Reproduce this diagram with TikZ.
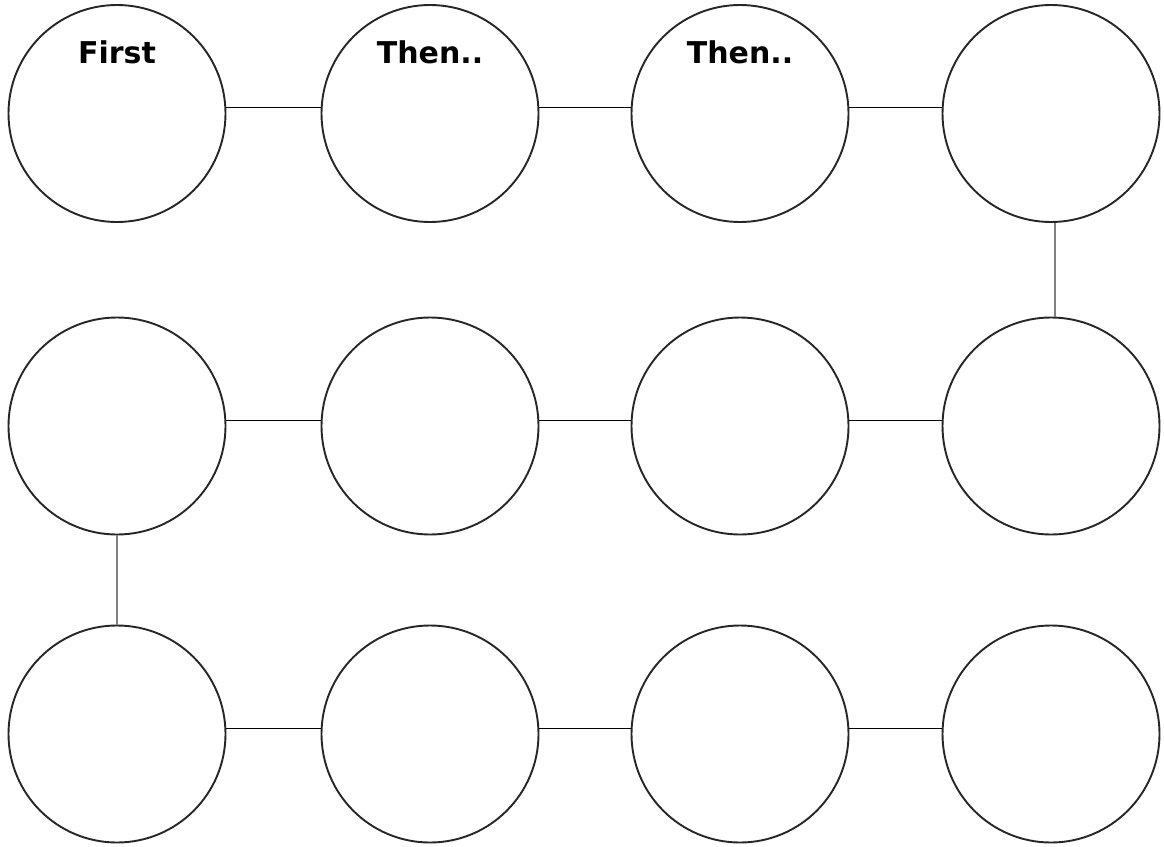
\documentclass[tikz,border=0pt]{standalone}
\usepackage{fontspec}
\setmainfont{DejaVu Sans}
\begin{document}
\begin{tikzpicture}[x=1pt,y=-1pt,
  stage/.style={circle,draw=black!85,line width=1.9pt,minimum size=217pt,inner sep=0pt},
  link/.style={draw=black,line width=1.4pt},
  vlink/.style={draw=black!50,line width=2pt},
  lbl/.style={anchor=base,inner sep=0pt,font=\fontsize{30}{36}\selectfont\bfseries}]
\useasboundingbox (0,0) rectangle (1164,846);
% row 1
\node[stage] (c1) at (117,113.5) {};
\node[stage] (c2) at (430,113.5) {};
\node[stage] (c3) at (740,113.5) {};
\node[stage] (c4) at (1051,113.5) {};
% row 2
\node[stage] (c5) at (117,426) {};
\node[stage] (c6) at (430,426) {};
\node[stage] (c7) at (740,426) {};
\node[stage] (c8) at (1051,426) {};
% row 3
\node[stage] (c9) at (117,734) {};
\node[stage] (c10) at (430,734) {};
\node[stage] (c11) at (740,734) {};
\node[stage] (c12) at (1051,734) {};
% labels
\node[lbl] (t1) at (117,63) {First};
\node[lbl] (t2) at (430,63) {Then..};
\node[lbl] (t3) at (740,63) {Then..};
% horizontal links
\draw[link] (c1.3) -- (c2.177);
\draw[link] (c2.3) -- (c3.177);
\draw[link] (c3.3) -- (c4.177);
\draw[link] (c5.3) -- (c6.177);
\draw[link] (c6.3) -- (c7.177);
\draw[link] (c7.3) -- (c8.177);
\draw[link] (c9.3) -- (c10.177);
\draw[link] (c10.3) -- (c11.177);
\draw[link] (c11.3) -- (c12.177);
% vertical links
\draw[vlink] (c4.272) -- (c8.88);
\draw[vlink] (c5.south) -- (c9.north);
\end{tikzpicture}
\end{document}
